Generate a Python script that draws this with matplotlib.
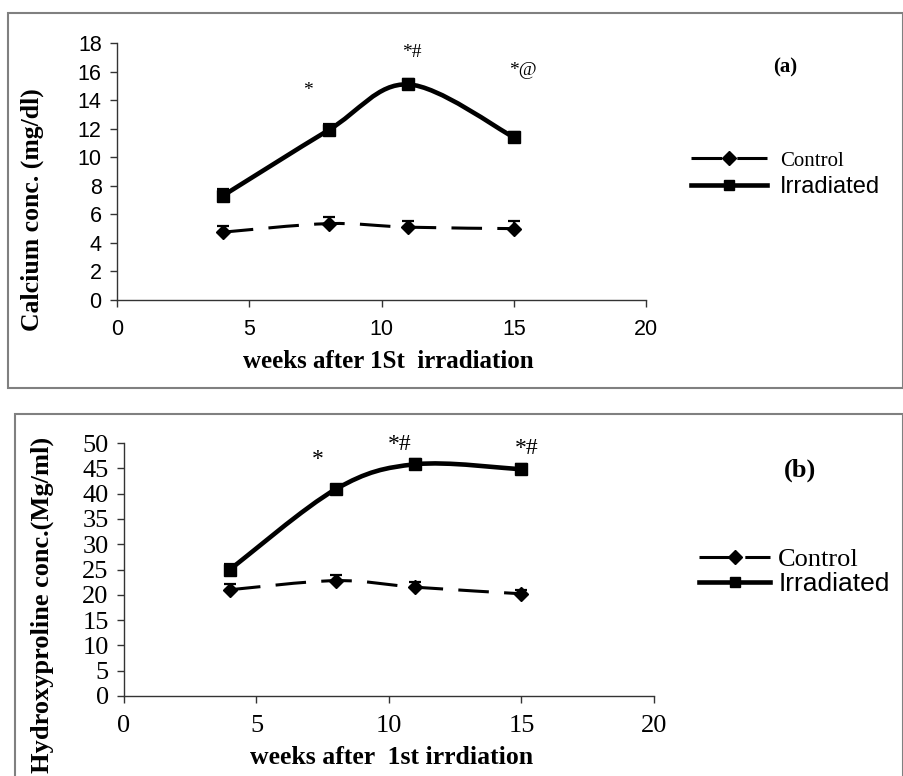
import matplotlib
matplotlib.use('Agg')
import matplotlib.pyplot as plt
import numpy as np
from matplotlib.path import Path
from matplotlib.patches import PathPatch, Rectangle
from matplotlib.lines import Line2D

SERIF = 'Liberation Serif'
SANS = 'Liberation Sans'

# data
weeks = [4, 8, 11, 15]

calcium_control = [4.75, 5.35, 5.1, 5.0]
calcium_control_err = [0.4, 0.45, 0.4, 0.55]
calcium_irradiated = [7.3, 11.9, 15.1, 11.4]
calcium_irradiated_err = [0.45, 0.4, 0.35, 0.35]
calcium_marks = ['*', '*#', '*@']
calcium_mark_x = [7.2, 11.15, 15.35]
calcium_mark_y = [14.7, 17.3, 16.1]

hyp_control = [21.0, 22.8, 21.5, 20.2]
hyp_control_err = [1.1, 1.1, 1.0, 0.7]
hyp_irradiated = [25.0, 40.9, 45.8, 44.8]
hyp_irradiated_err = [1.0, 0.7, 1.0, 1.0]
hyp_marks = ['*', '*#', '*#']
hyp_mark_x = [7.3, 10.4, 15.2]
hyp_mark_y = [46.8, 49.8, 49.0]

W, H = 904, 776
DASH = (0, (10, 5))


def smooth_path(x, y):
    # excel-like smoothed line (catmull-rom as cubic bezier)
    pts = np.column_stack([x, y]).astype(float)
    n = len(pts)
    verts = [pts[0]]
    codes = [Path.MOVETO]
    for i in range(n - 1):
        p0 = pts[max(i - 1, 0)]
        p1 = pts[i]
        p2 = pts[i + 1]
        p3 = pts[min(i + 2, n - 1)]
        verts += [p1 + (p2 - p0) / 6, p2 - (p3 - p1) / 6, p2]
        codes += [Path.CURVE4] * 3
    return Path(verts, codes)


def draw_series(ax, x, y, err, marker, ms, lw, ls):
    ax.add_patch(PathPatch(smooth_path(x, y), fill=False, edgecolor='black',
                           lw=lw, linestyle=ls, capstyle='butt', zorder=2))
    ax.errorbar(x, y, yerr=[np.zeros(len(err)), err], fmt='none', ecolor='black',
                elinewidth=1.6, capsize=4.5, capthick=1.6, zorder=3)
    ax.plot(x, y, linestyle='none', marker=marker, ms=ms, color='black', zorder=4)


def style_axes(ax, ymax, ystep, tickfont, ticksize):
    ax.set_xlim(0, 20)
    ax.set_ylim(0, ymax)
    ax.set_xticks([0, 5, 10, 15, 20])
    ax.set_yticks(np.arange(0, ymax + 1, ystep))
    for s in ['top', 'right']:
        ax.spines[s].set_visible(False)
    for s in ['left', 'bottom']:
        ax.spines[s].set_color('#333333')
        ax.spines[s].set_linewidth(1.0)
    ax.tick_params(direction='out', length=5, width=1.0, color='#333333')
    ax.tick_params(axis='y', pad=6)
    ax.tick_params(axis='x', pad=9)
    for lab in ax.get_xticklabels() + ax.get_yticklabels():
        lab.set_fontfamily(tickfont)
        lab.set_fontsize(ticksize)


def px(x, y):
    return x / W, 1 - y / H


fig = plt.figure(figsize=(9.04, 7.76), dpi=100)

# frames around the two panels
fig.add_artist(Rectangle(px(8, 388), 895 / W, 375 / H, transform=fig.transFigure,
                         fill=False, edgecolor='#808080', lw=1.5))
fig.add_artist(Rectangle(px(15, 790), 888 / W, 376 / H, transform=fig.transFigure,
                         fill=False, edgecolor='#808080', lw=1.5))

# ---- panel (a)
ax1 = fig.add_axes([117 / W, 1 - 300 / H, 529 / W, 257 / H])
draw_series(ax1, weeks, calcium_control, calcium_control_err, 'D', 7.5, 2.2, DASH)
draw_series(ax1, weeks, calcium_irradiated, calcium_irradiated_err, 's', 8.5, 3.3, '-')
style_axes(ax1, 18, 2, SANS, 15.5)
for t, x, y in zip(calcium_marks, calcium_mark_x, calcium_mark_y):
    ax1.text(x, y, t, fontfamily=SERIF, fontsize=14, ha='center', va='center')
fig.text(*px(785, 67), '(a)', fontfamily=SERIF, fontweight='bold', fontsize=15,
         ha='center', va='center')
fig.text(*px(32, 210), 'Calcium conc. (mg/dl)', fontfamily=SERIF, fontweight='bold',
         fontsize=18.5, rotation=90, ha='center', va='center')
fig.text(*px(388, 362), 'weeks after 1St  irradiation', fontfamily=SERIF,
         fontweight='bold', fontsize=18, ha='center', va='center')

h1 = [Line2D([], [], color='black', lw=2.2, ls=DASH, marker='D', ms=7),
      Line2D([], [], color='black', lw=3.3, ls='-', marker='s', ms=7)]
leg1 = fig.legend(h1, ['Control', 'Irradiated'], loc='center left',
                  bbox_to_anchor=px(691, 174), frameon=False, borderpad=0,
                  borderaxespad=0, handlelength=3.4, handletextpad=0.6,
                  labelspacing=0.25, numpoints=1, fontsize=16)
leg1.get_texts()[0].set_fontfamily(SERIF)
leg1.get_texts()[0].set_fontsize(15)
leg1.get_texts()[1].set_fontfamily(SANS)
leg1.get_texts()[1].set_fontsize(17)

# ---- panel (b)
ax2 = fig.add_axes([124 / W, 1 - 696 / H, 530 / W, 253 / H])
draw_series(ax2, weeks, hyp_control, hyp_control_err, 'D', 7.5, 2.2, DASH)
draw_series(ax2, weeks, hyp_irradiated, hyp_irradiated_err, 's', 8.5, 3.3, '-')
style_axes(ax2, 50, 5, SERIF, 19)
for t, x, y in zip(hyp_marks, hyp_mark_x, hyp_mark_y):
    ax2.text(x, y, t, fontfamily=SERIF, fontsize=17, ha='center', va='center')
fig.text(*px(800, 470), '(b)', fontfamily=SERIF, fontweight='bold', fontsize=19,
         ha='center', va='center')
fig.text(*px(42, 437), 'Hydroxyproline conc.(Mg/ml)', fontfamily=SERIF,
         fontweight='bold', fontsize=19, rotation=90, ha='center', va='top')
fig.text(*px(392, 757), 'weeks after  1st irrdiation', fontfamily=SERIF,
         fontweight='bold', fontsize=18.5, ha='center', va='center')

h2 = [Line2D([], [], color='black', lw=2.2, ls=DASH, marker='D', ms=7),
      Line2D([], [], color='black', lw=3.3, ls='-', marker='s', ms=7)]
leg2 = fig.legend(h2, ['Control', 'Irradiated'], loc='center left',
                  bbox_to_anchor=px(699, 572), frameon=False, borderpad=0,
                  borderaxespad=0, handlelength=2.7, handletextpad=0.3,
                  labelspacing=0.05, numpoints=1, fontsize=19)
leg2.get_texts()[0].set_fontfamily(SERIF)
leg2.get_texts()[1].set_fontfamily(SANS)

fig.savefig('out.png', dpi=100)
